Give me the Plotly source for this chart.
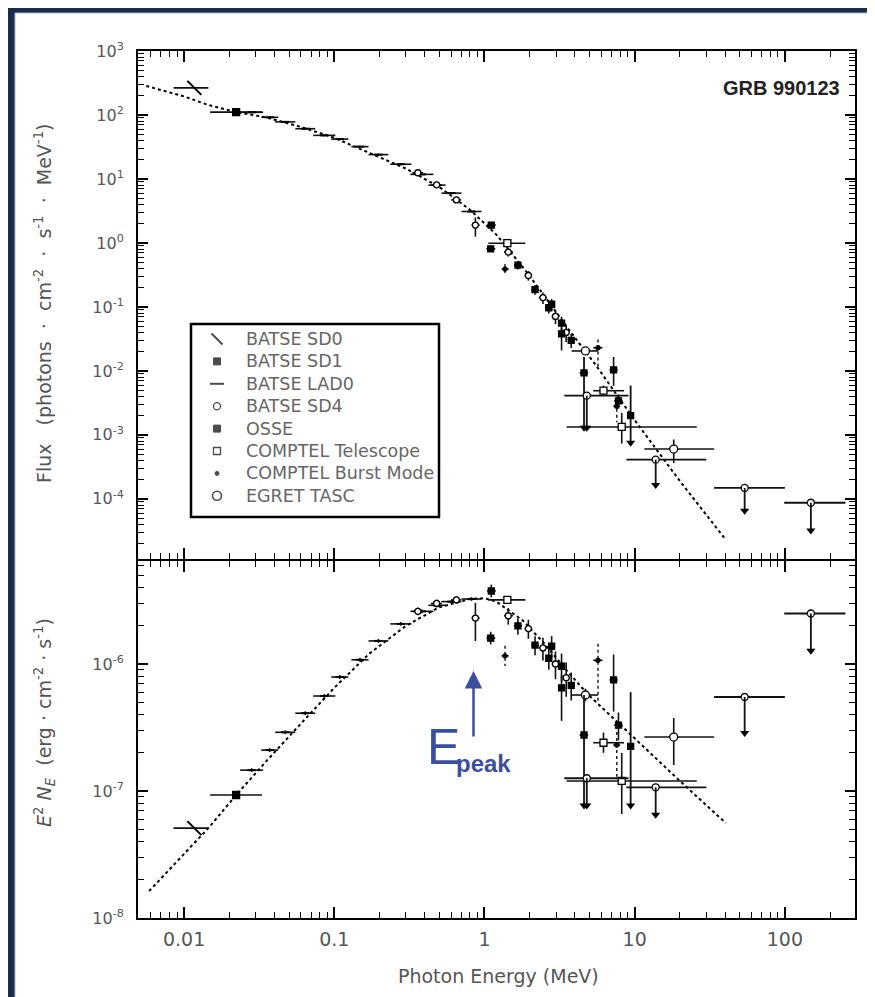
import math
import plotly.graph_objects as go

# ---------------- values ----------------
x_major = [0.01, 0.1, 1, 10, 100]
x_major_text = ["0.01", "0.1", "1", "10", "100"]
top_major = [1e-4, 1e-3, 1e-2, 1e-1, 1, 10, 100, 1000]
top_major_text = ["10<sup>-4</sup>", "10<sup>-3</sup>", "10<sup>-2</sup>", "10<sup>-1</sup>",
                  "10<sup>0</sup>", "10<sup>1</sup>", "10<sup>2</sup>", "10<sup>3</sup>"]
bot_major = [1e-8, 1e-7, 1e-6]
bot_major_text = ["10<sup>-8</sup>", "10<sup>-7</sup>", "10<sup>-6</sup>"]

# Band-function fit (dotted curve)
fit_E_top = [0.0056, 0.01, 0.0145, 0.022, 0.035, 0.06, 0.1, 0.17, 0.3, 0.5, 0.8, 1.2, 1.8, 2.5, 3.5, 5.5, 10, 20, 40.4]
fit_F_top = [284, 195, 143, 111, 92, 65, 44, 26, 14.5, 7.5, 3.3, 1.35, 0.42, 0.15, 0.05, 0.0124, 0.0017, 1.9e-4, 2.3e-5]
fit_E_bot = [0.00585, 0.0145, 0.0222, 0.035, 0.06, 0.1, 0.17, 0.3, 0.5, 0.8, 1.0, 1.2, 1.8, 2.5, 3.5, 4.93, 10, 20, 40.4]
fit_S_bot = [1.63e-8, 5.1e-8, 9.3e-8, 1.7e-7, 3.4e-7, 6.5e-7, 1.2e-6, 2.0e-6, 2.8e-6, 3.25e-6, 3.3e-6,
             3.1e-6, 2.2e-6, 1.45e-6, 0.9e-6, 5.7e-7, 2.6e-7, 1.2e-7, 5.6e-8]

# BATSE SD0
sd0_E = [0.0117]; sd0_lo = [0.0085]; sd0_hi = [0.0145]
sd0_F = [265]; sd0_S = [5.1e-8]
# BATSE SD1
sd1_E = [0.0222]; sd1_lo = [0.0149]; sd1_hi = [0.033]
sd1_F = [111]; sd1_S = [9.3e-8]
# BATSE LAD0 (bins)
lad_lo = [0.0236, 0.0326, 0.0404, 0.055, 0.0724, 0.0955, 0.130, 0.169, 0.236, 0.321, 0.423, 0.517, 0.703]
lad_hi = [0.0336, 0.0423, 0.055, 0.0747, 0.1016, 0.124, 0.169, 0.229, 0.326, 0.457, 0.55, 0.703, 0.955]
lad_F = [110, 92, 78, 61, 48, 42, 32, 24, 17, 11.8, 8.0, 6.0, 3.1]
lad_S = [1.46e-7, 2.1e-7, 2.9e-7, 4.1e-7, 5.6e-7, 7.9e-7, 1.08e-6, 1.52e-6, 2.07e-6, 2.6e-6, 2.9e-6, 3.1e-6, 3.25e-6]
# BATSE SD4
sd4_E = [0.36, 0.48, 0.65, 0.87, 1.44, 1.96, 2.45, 2.97, 3.5]
sd4_lo = [0.33, 0.44, 0.60, 0.82, 1.35, 1.85, 2.3, 2.8, 3.3]
sd4_hi = [0.39, 0.52, 0.70, 0.93, 1.55, 2.08, 2.6, 3.15, 3.7]
sd4_F = [12.5, 8.1, 4.7, 1.9, 0.72, 0.31, 0.14, 0.071, 0.040]
sd4_S = [2.6e-6, 3.0e-6, 3.2e-6, 2.3e-6, 2.4e-6, 1.9e-6, 1.34e-6, 1.0e-6, 0.78e-6]
sd4_up = [0.03, 0.03, 0.03, 0.12, 0.06, 0.07, 0.08, 0.10, 0.12]   # dex
sd4_dn = [0.03, 0.03, 0.03, 0.18, 0.07, 0.08, 0.10, 0.12, 0.15]
# OSSE
osse_E = [1.11, 1.10, 1.67, 2.17, 2.68, 2.8, 3.26, 3.26, 3.78, 7.24, 7.8]
osse_lo = [1.04, 1.03, 1.57, 2.05, 2.55, 2.65, 3.1, 3.1, 3.6, 6.8, 7.3]
osse_hi = [1.19, 1.18, 1.78, 2.3, 2.82, 2.95, 3.45, 3.45, 4.0, 7.7, 8.3]
osse_F = [1.9, 0.81, 0.45, 0.187, 0.097, 0.11, 0.056, 0.038, 0.030, 0.0104, 0.0034]
osse_S = [3.76e-6, 1.6e-6, 2.0e-6, 1.41e-6, 1.11e-6, 1.38e-6, 0.96e-6, 0.65e-6, 0.68e-6, 7.5e-7, 3.3e-7]
osse_up = [0.05, 0.05, 0.06, 0.07, 0.08, 0.08, 0.10, 0.10, 0.10, 0.20, 0.10]
osse_dn = [0.05, 0.05, 0.07, 0.08, 0.09, 0.09, 0.12, 0.26, 0.12, 0.25, 0.12]
osse_ul_E = [4.6, 9.4]; osse_ul_lo = [4.3, 8.9]; osse_ul_hi = [4.9, 9.9]
osse_ul_F = [0.0093, 0.0020]; osse_ul_Ftop = [0.0165, 0.0059]; osse_ul_Ftip = [0.00129, 7.5e-4]
osse_ul_S = [2.76e-7, 2.25e-7]; osse_ul_Stop = [5.7e-7, 6.0e-7]; osse_ul_Stip = [7.7e-8, 7.7e-8]
# COMPTEL Telescope
ct_E = [1.42, 6.2, 8.2]; ct_lo = [1.06, 5.3, 3.52]; ct_hi = [1.87, 8.5, 25.9]
ct_F = [0.99, 0.0049, 0.00133]; ct_S = [3.2e-6, 2.4e-7, 1.2e-7]
ct_up = [0.03, 0.08, 0.22]; ct_dn = [0.03, 0.08, 0.26]
ct_ul_E = [4.8, 13.8]; ct_ul_lo = [3.4, 8.8]; ct_ul_hi = [9.1, 30]
ct_ul_F = [0.0041, 4.1e-4]; ct_ul_Ftip = [0.00129, 1.65e-4]
ct_ul_S = [1.26e-7, 1.07e-7]; ct_ul_Stip = [7.7e-8, 6.5e-8]
# COMPTEL Burst Mode
cb_E = [1.37, 5.7, 7.6]; cb_lo = [1.3, 5.3, 7.2]; cb_hi = [1.45, 6.1, 8.0]
cb_F = [0.39, 0.023, 0.0028]; cb_S = [1.16e-6, 1.07e-6, 2.3e-7]
cb_up = [0.08, 0.13, 0.15]; cb_dn = [0.08, 0.33, 0.25]
# EGRET TASC
eg_E = [4.7, 18.2]; eg_lo = [3.8, 11.6]; eg_hi = [5.7, 33.8]
eg_F = [0.0205, 6.0e-4]; eg_S = [5.7e-7, 2.66e-7]
eg_up = [0.05, 0.15]; eg_dn = [0.05, 0.22]
eg_ul_E = [54, 149]; eg_ul_lo = [33.8, 99]; eg_ul_hi = [100, 253]
eg_ul_F = [1.48e-4, 8.7e-5]; eg_ul_Ftip = [6.5e-5, 3.2e-5]
eg_ul_S = [5.5e-7, 2.5e-6]; eg_ul_Stip = [2.86e-7, 1.27e-6]

# legend
legend_names = ["BATSE SD0", "BATSE SD1", "BATSE LAD0", "BATSE SD4", "OSSE",
                "COMPTEL Telescope", "COMPTEL Burst Mode", "EGRET TASC"]
legend_symbols = ["line-nw", "square", "line-ew", "circle-open", "square",
                  "square-open", "circle", "circle-open"]
legend_sizes = [11, 7, 10, 7, 7, 7, 4, 9]

# E_peak marker position
epeak_E = 0.845
epeak_S = 8.8e-7

# ---------------- helpers ----------------
ERRC = "#111111"


def mk(sym, size, filled=True):
    if sym.startswith("line"):
        return dict(symbol=sym, size=size, color="black", line=dict(color="black", width=2))
    return dict(symbol=sym, size=size, color="black" if filled else "white",
                line=dict(color="black", width=1.3))


def pts(E, lo, hi, val, up, dn, xa, ya, marker):
    return go.Scatter(
        x=E, y=val, xaxis=xa, yaxis=ya, mode="markers", showlegend=False,
        marker=marker,
        error_x=dict(type="data", symmetric=False,
                     array=[h - e for e, h in zip(E, hi)],
                     arrayminus=[e - l for e, l in zip(E, lo)],
                     width=0, thickness=1.6, color=ERRC),
        error_y=dict(type="data", symmetric=False,
                     array=[v * (10 ** u - 1) for v, u in zip(val, up)],
                     arrayminus=[v * (1 - 10 ** (-d)) for v, d in zip(val, dn)],
                     width=0, thickness=1.6, color=ERRC),
    )


def uls(fig, E, lo, hi, val, tip, xa, ya, marker, top=None):
    fig.add_trace(go.Scatter(
        x=E, y=val, xaxis=xa, yaxis=ya, mode="markers", showlegend=False, marker=marker,
        error_x=dict(type="data", symmetric=False,
                     array=[h - e for e, h in zip(E, hi)],
                     arrayminus=[e - l for e, l in zip(E, lo)],
                     width=0, thickness=1.8, color=ERRC)))
    xs, ys = [], []
    starts = top if top is not None else val
    for e, s, t in zip(E, starts, tip):
        xs += [e, e, None]
        ys += [s, t, None]
    fig.add_trace(go.Scatter(x=xs, y=ys, xaxis=xa, yaxis=ya, mode="lines", showlegend=False,
                             line=dict(color=ERRC, width=1.8), hoverinfo="skip"))
    fig.add_trace(go.Scatter(x=E, y=tip, xaxis=xa, yaxis=ya, mode="markers", showlegend=False,
                             marker=dict(symbol="triangle-down", size=8, color="black"),
                             hoverinfo="skip"))


def dotted_err(E, val, up, dn, xa, ya):
    xs, ys = [], []
    for e, v, u, d in zip(E, val, up, dn):
        xs += [e, e, None]
        ys += [v * 10 ** u, v * 10 ** (-d), None]
    return go.Scatter(x=xs, y=ys, xaxis=xa, yaxis=ya, mode="lines", showlegend=False,
                      line=dict(color=ERRC, width=1.4, dash="dot"), hoverinfo="skip")


fig = go.Figure()

panels = [("x", "y", "F"), ("x2", "y2", "S")]
for xa, ya, q in panels:
    fit_E = fit_E_top if q == "F" else fit_E_bot
    fit_v = fit_F_top if q == "F" else fit_S_bot
    fig.add_trace(go.Scatter(x=fit_E, y=fit_v, xaxis=xa, yaxis=ya, mode="lines", showlegend=False,
                             line=dict(color="black", width=2, dash="dot"), hoverinfo="skip"))
    v = lambda a, b: a if q == "F" else b
    lad_E = [(l * h) ** 0.5 for l, h in zip(lad_lo, lad_hi)]
    fig.add_trace(pts(sd0_E, sd0_lo, sd0_hi, v(sd0_F, sd0_S), [0.0], [0.0], xa, ya, mk("line-nw", 14)))
    fig.add_trace(pts(sd1_E, sd1_lo, sd1_hi, v(sd1_F, sd1_S), [0.02], [0.02], xa, ya, mk("square", 7)))
    fig.add_trace(pts(lad_E, lad_lo, lad_hi, v(lad_F, lad_S), [0.015] * len(lad_E), [0.015] * len(lad_E),
                      xa, ya, mk("line-ew", 6)))
    fig.add_trace(pts(sd4_E, sd4_lo, sd4_hi, v(sd4_F, sd4_S), sd4_up, sd4_dn, xa, ya,
                      mk("circle", 6, filled=False)))
    fig.add_trace(pts(osse_E, osse_lo, osse_hi, v(osse_F, osse_S), osse_up, osse_dn, xa, ya, mk("square", 6)))
    fig.add_trace(pts(ct_E, ct_lo, ct_hi, v(ct_F, ct_S), ct_up, ct_dn, xa, ya, mk("square", 7, filled=False)))
    fig.add_trace(dotted_err(cb_E, v(cb_F, cb_S), cb_up, cb_dn, xa, ya))
    fig.add_trace(pts(cb_E, cb_lo, cb_hi, v(cb_F, cb_S), [0] * 3, [0] * 3, xa, ya, mk("circle", 4)))
    fig.add_trace(pts(eg_E, eg_lo, eg_hi, v(eg_F, eg_S), eg_up, eg_dn, xa, ya, mk("circle", 8, filled=False)))
    uls(fig, osse_ul_E, osse_ul_lo, osse_ul_hi, v(osse_ul_F, osse_ul_S), v(osse_ul_Ftip, osse_ul_Stip),
        xa, ya, mk("square", 6), top=v(osse_ul_Ftop, osse_ul_Stop))
    uls(fig, ct_ul_E, ct_ul_lo, ct_ul_hi, v(ct_ul_F, ct_ul_S), v(ct_ul_Ftip, ct_ul_Stip),
        xa, ya, mk("circle", 7, filled=False))
    uls(fig, eg_ul_E, eg_ul_lo, eg_ul_hi, v(eg_ul_F, eg_ul_S), v(eg_ul_Ftip, eg_ul_Stip),
        xa, ya, mk("circle", 7, filled=False))

# ---------------- geometry ----------------
W, H = 875, 997
ML, MR, MT, MB = 130, 28, 43, 87
PW, PH = W - ML - MR, H - MT - MB
Y_SPLIT = 551
LW = 2
split = (910 - Y_SPLIT) / PH


def px_x(px):
    return (px - ML) / PW


def px_y(py):
    return (H - MB - py) / PH


# custom legend (symbols on a pixel-scaled overlay axis, texts as annotations)
LEG_LEFT, LEG_RIGHT, LEG_TOP, LEG_BOT = 183, 431, 316, 509
LEG_Y0, LEG_STEP, LEG_SYM_X, LEG_TXT_X = 331, 22.4, 209, 236
leg_y = [LEG_Y0 + i * LEG_STEP for i in range(len(legend_names))]
fig.add_trace(go.Scatter(
    x=[LEG_SYM_X] * len(legend_names), y=leg_y, xaxis="x3", yaxis="y3", mode="markers",
    showlegend=False, hoverinfo="skip",
    marker=dict(symbol=legend_symbols, size=legend_sizes, color="black",
                line=dict(color="black", width=[2, 1, 2, 1.3, 1, 1.3, 1, 1.6]))))


def minor_vals(k0, k1):
    return [m * 10 ** k for k in range(k0, k1) for m in range(2, 10)]


TICKFONT = dict(family="DejaVu Sans", size=16, color="#555555")
common_x = dict(type="log", range=[-2.307, 2.467], showline=True, linecolor="black", linewidth=LW,
                mirror="allticks", ticks="inside", ticklen=11, tickwidth=1.5, tickcolor="black",
                tickvals=x_major, ticktext=x_major_text, showgrid=False, zeroline=False,
                minor=dict(ticks="inside", ticklen=6, tickwidth=1.2, tickcolor="black",
                           tickvals=minor_vals(-3, 3), showgrid=False),
                tickfont=dict(family="DejaVu Sans", size=19, color="#555555"))
common_y = dict(type="log", showline=True, linecolor="black", linewidth=LW, mirror="allticks",
                ticks="inside", ticklen=10, tickwidth=1.5, tickcolor="black", showgrid=False,
                zeroline=False, tickfont=TICKFONT, ticklabelstandoff=9)

TITLEFONT = dict(family="DejaVu Sans", size=19, color="#555555")

fig.update_layout(
    width=W, height=H,
    margin=dict(l=ML, r=MR, t=MT, b=MB),
    paper_bgcolor="#1d2b4e", plot_bgcolor="white",
    showlegend=False,
    xaxis=dict(common_x, domain=[0, 1], anchor="y", showticklabels=False),
    xaxis2=dict(common_x, domain=[0, 1], anchor="y2", matches="x", showticklabels=True,
                ticklabelstandoff=3),
    yaxis=dict(common_y, domain=[split, 1], anchor="x", range=[-4.94, 3],
               tickvals=top_major, ticktext=top_major_text,
               minor=dict(ticks="inside", ticklen=6, tickwidth=1.2, tickcolor="black",
                          tickvals=minor_vals(-5, 3), showgrid=False)),
    yaxis2=dict(common_y, domain=[0, split - LW / PH], anchor="x2", range=[-8, -5.173 - LW / 127],
                tickvals=bot_major, ticktext=bot_major_text,
                minor=dict(ticks="inside", ticklen=6, tickwidth=1.2, tickcolor="black",
                           tickvals=minor_vals(-8, -5), showgrid=False)),
    xaxis3=dict(overlaying="x", anchor="y3", range=[ML, W - MR], visible=False),
    yaxis3=dict(overlaying="y", anchor="x3", range=[Y_SPLIT, MT], visible=False),
    shapes=[
        dict(type="rect", xref="paper", yref="paper",
             x0=px_x(7), x1=px_x(864), y0=px_y(997), y1=px_y(5),
             fillcolor="white", line=dict(color="#a9bcd6", width=1), layer="below"),
        dict(type="rect", xref="paper", yref="paper",
             x0=px_x(LEG_LEFT), x1=px_x(LEG_RIGHT), y0=px_y(LEG_BOT), y1=px_y(LEG_TOP),
             fillcolor="white", line=dict(color="black", width=2.5), layer="below"),
    ],
    annotations=[
        dict(text="<b>GRB 990123</b>", xref="paper", yref="paper", x=px_x(834), xanchor="right",
             y=px_y(80), yanchor="middle", showarrow=False,
             font=dict(family="Liberation Sans", size=20, color="#222")),
        dict(text="Flux   (photons  ·  cm<sup>-2</sup>  ·  s<sup>-1</sup>  ·  MeV<sup>-1</sup>)",
             xref="paper", yref="paper", x=px_x(35), y=px_y(295), xanchor="center", yanchor="middle",
             textangle=-90, showarrow=False, font=TITLEFONT),
        dict(text="<i>E</i><sup>2</sup> <i>N<sub>E</sub></i>  (erg · cm<sup>-2</sup> · s<sup>-1</sup>)",
             xref="paper", yref="paper", x=px_x(36), y=px_y(715), xanchor="center", yanchor="middle",
             textangle=-90, showarrow=False, font=TITLEFONT),
        dict(text="Photon Energy (MeV)", xref="paper", yref="paper", x=px_x(490), y=px_y(968),
             xanchor="center", yanchor="middle", showarrow=False, font=TITLEFONT),
        dict(x=math.log10(epeak_E), y=math.log10(epeak_S), xref="x2", yref="y2",
             text="", showarrow=True, ax=0, ay=67, arrowhead=2, arrowsize=1.4, arrowwidth=2.5,
             arrowcolor="#3a4ea0", standoff=0),
        dict(text="E", xref="paper", yref="paper", x=px_x(435), y=px_y(739), xanchor="center",
             yanchor="middle", showarrow=False,
             font=dict(family="Liberation Sans", size=50, color="#3a4ea0")),
        dict(text="<b>peak</b>", xref="paper", yref="paper", x=px_x(446), y=px_y(755), xanchor="left",
             yanchor="middle", showarrow=False,
             font=dict(family="Liberation Sans", size=24, color="#3a4ea0")),
    ] + [
        dict(text=name, xref="paper", yref="paper", x=px_x(LEG_TXT_X), y=px_y(yy), xanchor="left",
             yanchor="middle", showarrow=False,
             font=dict(family="DejaVu Sans", size=17.5, color="#666666"))
        for name, yy in zip(legend_names, leg_y)
    ],
)

fig.write_html("out.html")
